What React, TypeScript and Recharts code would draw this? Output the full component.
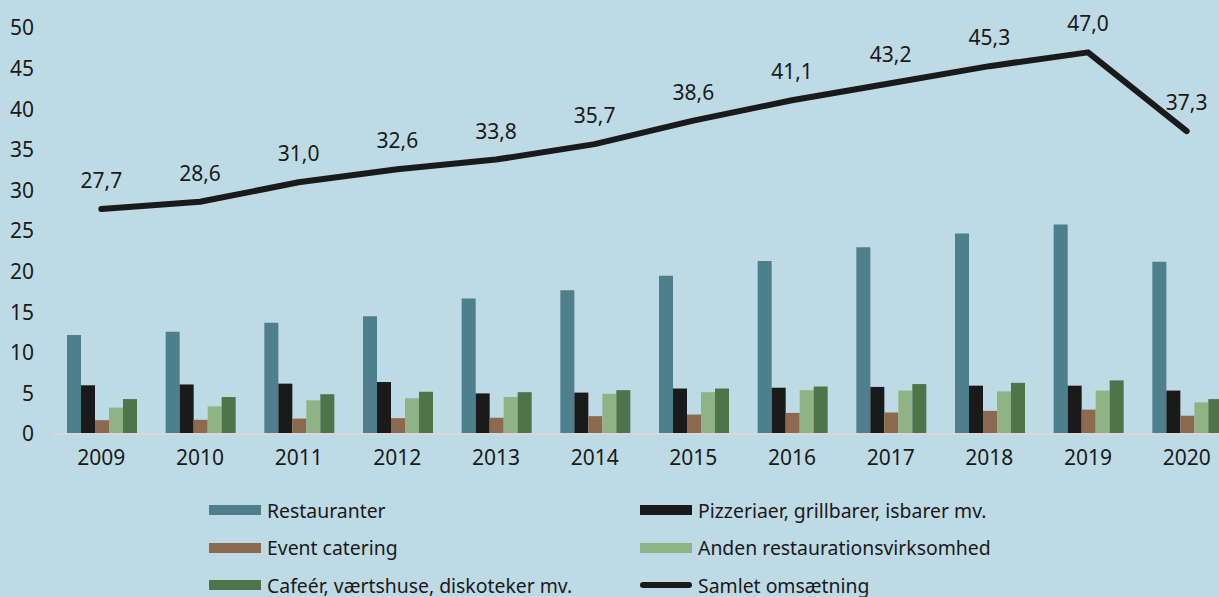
import React from 'react';
import {
  ComposedChart,
  Bar,
  Line,
  XAxis,
  YAxis,
  Legend,
  LabelList,
} from 'recharts';

const years = ['2009', '2010', '2011', '2012', '2013', '2014', '2015', '2016', '2017', '2018', '2019', '2020'];
const restauranter = [12.2, 12.6, 13.7, 14.5, 16.7, 17.7, 19.5, 21.3, 23.0, 24.7, 25.8, 21.2];
const pizzeriaer = [6.0, 6.1, 6.2, 6.4, 5.0, 5.1, 5.6, 5.7, 5.8, 5.95, 5.95, 5.35];
const eventCatering = [1.7, 1.75, 1.9, 1.95, 2.0, 2.2, 2.4, 2.6, 2.65, 2.85, 3.0, 2.25];
const anden = [3.25, 3.4, 4.15, 4.4, 4.55, 4.95, 5.15, 5.4, 5.35, 5.25, 5.35, 3.9];
const cafeer = [4.3, 4.55, 4.9, 5.2, 5.15, 5.4, 5.6, 5.85, 6.15, 6.3, 6.6, 4.3];
const samlet = [27.7, 28.6, 31.0, 32.6, 33.8, 35.7, 38.6, 41.1, 43.2, 45.3, 47.0, 37.3];
const yTicks = [0, 5, 10, 15, 20, 25, 30, 35, 40, 45, 50];

const data = years.map((year, i) => ({
  year,
  restauranter: restauranter[i],
  pizzeriaer: pizzeriaer[i],
  eventCatering: eventCatering[i],
  anden: anden[i],
  cafeer: cafeer[i],
  samlet: samlet[i],
}));

const BG = '#bedae4';
const TEXT = '#1a1a1a';
const FONT = '"Noto Sans", sans-serif';

const legendItems = [
  { name: 'Restauranter', color: '#4e7f8c', line: false, col: 0, row: 0 },
  { name: 'Pizzeriaer, grillbarer, isbarer mv.', color: '#1a1a1a', line: false, col: 1, row: 0 },
  { name: 'Event catering', color: '#8b6a50', line: false, col: 0, row: 1 },
  { name: 'Anden restaurationsvirksomhed', color: '#90b386', line: false, col: 1, row: 1 },
  { name: 'Cafeér, værtshuse, diskoteker mv.', color: '#4f744a', line: false, col: 0, row: 2 },
  { name: 'Samlet omsætning', color: '#1a1a1a', line: true, col: 1, row: 2 },
];

const LegendBox = () => (
  <div style={{ position: 'relative', height: 113, width: '100%' }}>
    {legendItems.map((item) => (
      <div
        key={item.name}
        style={{
          position: 'absolute',
          left: item.col === 0 ? 209 : 640,
          top: 26 + item.row * 37.5 - 14,
          height: 28,
          display: 'flex',
          alignItems: 'center',
          fontFamily: FONT,
          fontSize: 19.4,
          color: TEXT,
          whiteSpace: 'nowrap',
        }}
      >
        <span
          style={{
            display: 'inline-block',
            width: 52,
            height: item.line ? 6 : 10,
            borderRadius: item.line ? 3 : 0,
            background: item.color,
            marginRight: 6,
          }}
        />
        {item.name}
      </div>
    ))}
  </div>
);

const fmt = (v: number) => v.toFixed(1).replace('.', ',');

export default function App() {
  return (
    <div
      style={{
        position: 'absolute',
        left: 0,
        top: 0,
        width: 1219,
        height: 597,
        overflow: 'hidden',
        background: BG,
      }}
    >
      <ComposedChart
        width={1236}
        height={597}
        data={data}
        margin={{ top: 28, right: 0, left: 0, bottom: 0 }}
        barCategoryGap={15}
        barGap={0}
      >
        <XAxis
          dataKey="year"
          height={50}
          tickLine={false}
          tickMargin={10}
          axisLine={{ stroke: '#d8d8d8', strokeWidth: 2 }}
          tick={{ fill: TEXT, fontSize: 21, fontFamily: FONT }}
        />
        <YAxis
          width={52}
          domain={[0, 50]}
          ticks={yTicks}
          interval={0}
          axisLine={false}
          tickLine={false}
          tickMargin={12}
          tick={{ fill: TEXT, fontSize: 21, fontFamily: FONT }}
        />
        <Legend verticalAlign="bottom" content={<LegendBox />} />
        <Bar dataKey="restauranter" name="Restauranter" fill="#4e7f8c" isAnimationActive={false} />
        <Bar dataKey="pizzeriaer" name="Pizzeriaer, grillbarer, isbarer mv." fill="#1a1a1a" isAnimationActive={false} />
        <Bar dataKey="eventCatering" name="Event catering" fill="#8b6a50" isAnimationActive={false} />
        <Bar dataKey="anden" name="Anden restaurationsvirksomhed" fill="#90b386" isAnimationActive={false} />
        <Bar dataKey="cafeer" name="Cafeér, værtshuse, diskoteker mv." fill="#4f744a" isAnimationActive={false} />
        <Line
          dataKey="samlet"
          name="Samlet omsætning"
          type="linear"
          stroke="#1a1a1a"
          strokeWidth={6}
          strokeLinecap="round"
          strokeLinejoin="round"
          dot={false}
          activeDot={false}
          isAnimationActive={false}
        >
          <LabelList
            dataKey="samlet"
            position="top"
            offset={21}
            formatter={fmt}
            style={{ fill: TEXT, fontSize: 21, fontFamily: FONT }}
          />
        </Line>
      </ComposedChart>
    </div>
  );
}
